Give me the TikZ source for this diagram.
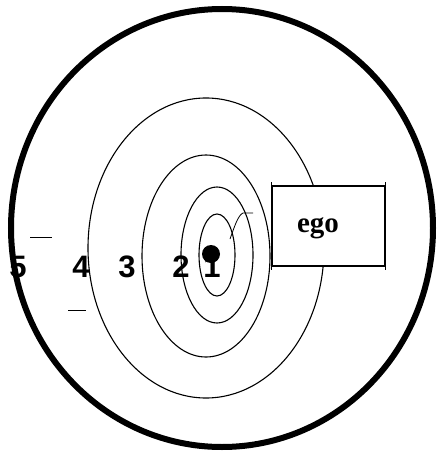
\documentclass[tikz,border=0pt]{standalone}
\usepackage{fontspec}
\newfontfamily\digitfont{Liberation Sans}
\newfontfamily\egofont{Liberation Serif}
\begin{document}
\begin{tikzpicture}[x=1pt,y=-1pt,
  ring/.style={draw=black,line width=1.1pt},
  digit/.style={font=\digitfont\bfseries\fontsize{31}{31}\selectfont,anchor=base,inner sep=0pt},
  thin/.style={draw=black,line width=0.9pt}]
\useasboundingbox (0,0) rectangle (437,455);
% labels
\node[digit] (n5) at (18,277) {5};
\node[digit] (n4) at (81,277) {4};
\node[digit] (n3) at (127,277) {3};
\node[digit] (n2) at (181,277) {2};
\node[digit] (n1) at (212,277) {1};
% rings
\draw[ring] (206,248) ellipse [x radius=118, y radius=150];
\draw[ring] (206,256) ellipse [x radius=64, y radius=101];
\draw[ring] (217,255) ellipse [x radius=36, y radius=68];
\draw[ring] (217,255) ellipse [x radius=18, y radius=41];
% centre dot
\fill (211,254) circle [radius=9];
% outer circle
\draw[line width=6pt] (222,228) ellipse [x radius=211, y radius=219];
% ego box
\node[draw=black,line width=1.1pt,fill=white,minimum width=113pt,minimum height=80pt,inner sep=0pt] (ego) at (328.5,226) {};
\node[font=\egofont\bfseries\fontsize{29}{29}\selectfont,anchor=base,inner sep=0pt] (egot) at (318,232) {ego};
% corner ticks
\draw[line width=1pt] (ego.north west) ++(0,-3) -- ++(0,6);
\draw[line width=1pt] (ego.north east) ++(0,-3) -- ++(0,6);
\draw[line width=1pt] (ego.south west) ++(0,-3) -- ++(0,6);
\draw[line width=1pt] (ego.south east) ++(0,-3) -- ++(0,6);
% pointer
\coordinate (p0) at (230,239);
\coordinate (p1) at (243,213);
\coordinate (p2) at (253,213);
\draw[line width=0.8pt] (p0) .. controls (234,228) and (238,215) .. (p1) -- (p2);
% short dashes
\coordinate (d1a) at (30,237);
\coordinate (d1b) at (52,237);
\coordinate (d2a) at (68,310);
\coordinate (d2b) at (86,310);
\draw[thin] (d1a) -- (d1b);
\draw[line width=0.7pt] (d2a) -- (d2b);
\end{tikzpicture}
\end{document}
